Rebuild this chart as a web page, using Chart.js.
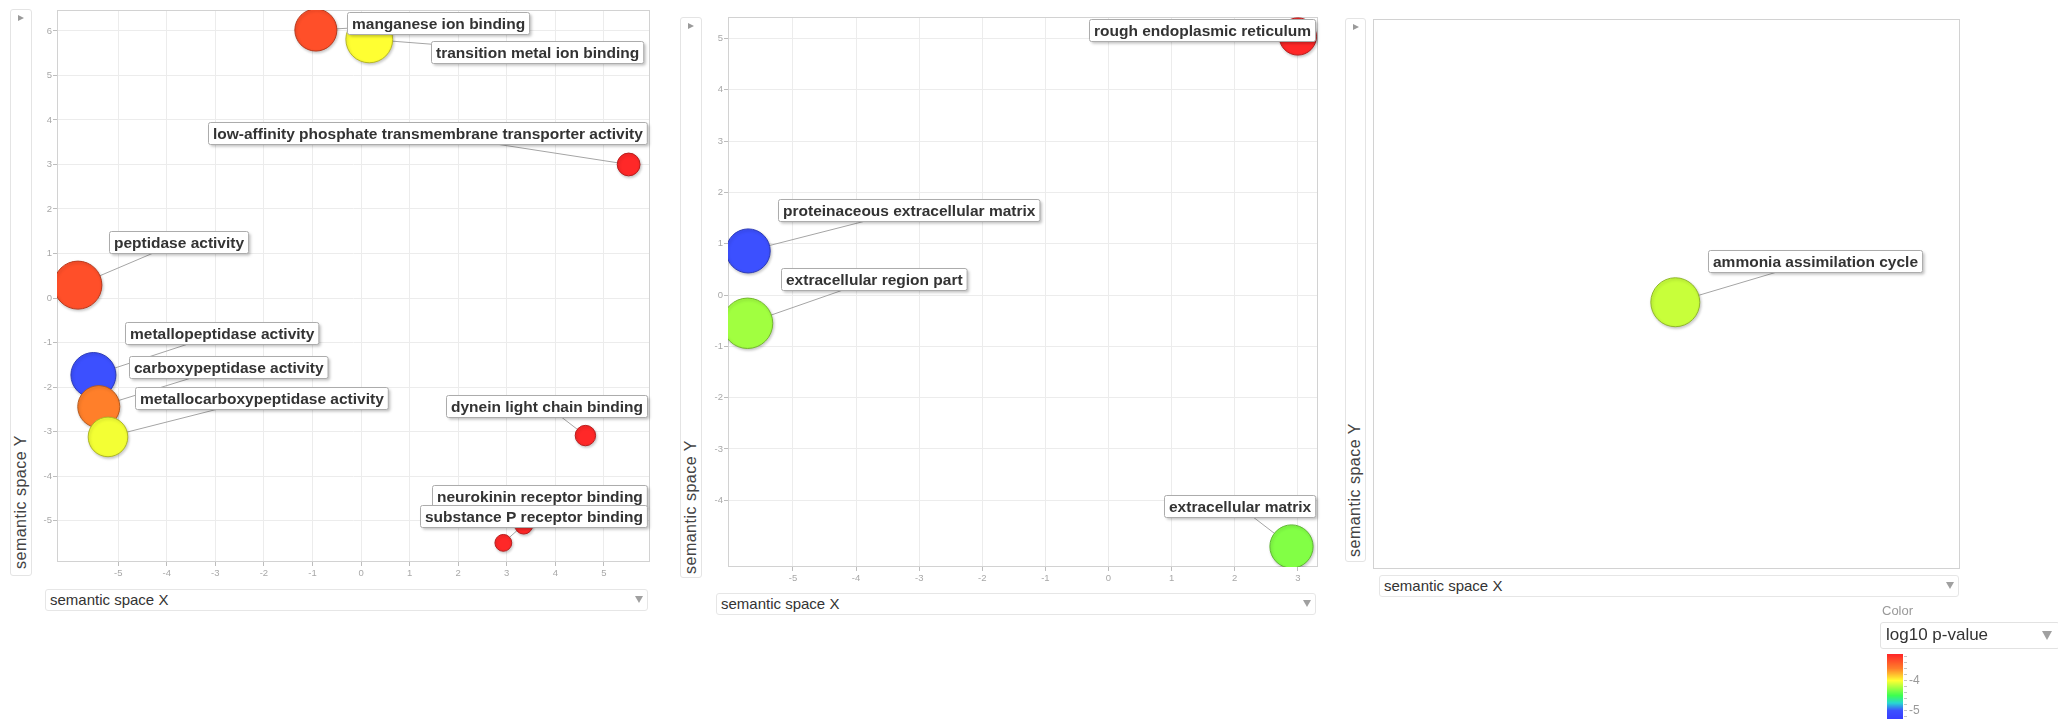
<!DOCTYPE html>
<html>
<head>
<meta charset="utf-8">
<title>REVIGO semantic space</title>
<script src="https://cdn.jsdelivr.net/npm/chart.js@4.4.1/dist/chart.umd.min.js"></script>
<style>
  html, body { margin: 0; padding: 0; background: #fff; }
  body { position: relative; width: 2058px; height: 719px; overflow: hidden; font-family: "Liberation Sans", Arial, sans-serif; }
  canvas { position: absolute; }
  .ybox { position: absolute; background: #fff; border: 1px solid #e4e4e4; border-radius: 3px; box-sizing: border-box; }
  .ybox .play { position: absolute; top: 5px; width: 0; height: 0; border-left: 6px solid #9a9a9a; border-top: 3.5px solid transparent; border-bottom: 3.5px solid transparent; }
  .ylabel { position: absolute; font-size: 16px; line-height: 16px; letter-spacing: 0.5px; color: #444; white-space: nowrap; transform-origin: 0 0; transform: rotate(-90deg); }
  .xsel { position: absolute; height: 22px; background: #fff; border: 1px solid #e6e6e6; border-radius: 3px; box-sizing: border-box; font-size: 15px; line-height: 20px; color: #333; padding-left: 4px; white-space: nowrap; }
  .xsel .arrow { position: absolute; right: 4px; top: 6px; width: 0; height: 0; border-top: 7px solid #a0a0a0; border-left: 4px solid transparent; border-right: 4px solid transparent; }
  .clabel { position: absolute; font-size: 13px; color: #999; }
  .csel { position: absolute; background: #fff; border: 1px solid #e2e2e2; border-radius: 3px; box-sizing: border-box; font-size: 17px; line-height: 24px; color: #333; padding-left: 5px; }
  .csel .arrow { position: absolute; right: 5px; top: 8px; width: 0; height: 0; border-top: 9px solid #a0a0a0; border-left: 5px solid transparent; border-right: 5px solid transparent; }
</style>
</head>
<body>

<!-- panel 1: molecular function -->
<div class="ybox" style="left:10px;top:9px;width:22px;height:567px"><div class="play" style="left:7px"></div></div>
<div class="ylabel" style="left:13px;top:569px">semantic space Y</div>
<canvas id="chart-mf"></canvas>
<div class="xsel" style="left:45px;top:589px;width:603px">semantic space X<div class="arrow"></div></div>

<!-- panel 2: cellular component -->
<div class="ybox" style="left:680px;top:17px;width:22px;height:561px"><div class="play" style="left:7px"></div></div>
<div class="ylabel" style="left:683px;top:574px">semantic space Y</div>
<canvas id="chart-cc"></canvas>
<div class="xsel" style="left:716px;top:593px;width:600px">semantic space X<div class="arrow"></div></div>

<!-- panel 3: biological process -->
<div class="ybox" style="left:1345px;top:18px;width:21px;height:544px"><div class="play" style="left:7px"></div></div>
<div class="ylabel" style="left:1347px;top:557px">semantic space Y</div>
<canvas id="chart-bp"></canvas>
<div class="xsel" style="left:1379px;top:575px;width:580px">semantic space X<div class="arrow"></div></div>

<!-- colour key -->
<div class="clabel" style="left:1882px;top:603px">Color</div>
<div class="csel" style="left:1880px;top:622px;width:180px;height:27px">log10 p-value<div class="arrow" style="right:7px"></div></div>
<canvas id="color-key"></canvas>

<script>
// ---- data: molecular function ----
const termsMF = [
  'manganese ion binding',
  'transition metal ion binding',
  'low-affinity phosphate transmembrane transporter activity',
  'peptidase activity',
  'metallopeptidase activity',
  'carboxypeptidase activity',
  'metallocarboxypeptidase activity',
  'dynein light chain binding',
  'neurokinin receptor binding',
  'substance P receptor binding',
]
const xMF = [-0.93, 0.17, 5.51, -5.83, -5.51, -5.40, -5.21, 4.62, 3.35, 2.93]
const yMF = [6.02, 5.81, 3.00, 0.29, -1.73, -2.44, -3.12, -3.09, -5.10, -5.50]
const pvalMF = [-3.34, -4.0, -3.13, -3.34, -5.0, -3.6, -4.03, -3.13, -3.13, -3.13]
const logSizeMF = [3.5, 3.9, 1.9, 4.0, 3.75, 3.5, 3.3, 1.7, 1.5, 1.4]
const xTicksMF = [-5, -4, -3, -2, -1, 0, 1, 2, 3, 4, 5]
const yTicksMF = [-5, -4, -3, -2, -1, 0, 1, 2, 3, 4, 5, 6]

// ---- data: cellular component ----
const termsCC = [
  'rough endoplasmic reticulum',
  'proteinaceous extracellular matrix',
  'extracellular region part',
  'extracellular matrix',
]
const xCC = [3.00, -5.71, -5.72, 2.90]
const yCC = [5.04, 0.86, -0.55, -4.90]
const pvalCC = [-3.13, -5.0, -4.24, -4.32]
const logSizeCC = [3.1, 3.67, 4.2, 3.6]
const xTicksCC = [-5, -4, -3, -2, -1, 0, 1, 2, 3]
const yTicksCC = [-4, -3, -2, -1, 0, 1, 2, 3, 4, 5]

// ---- data: biological process ----
const termsBP = ['ammonia assimilation cycle']
const xBP = [0.03]
const yBP = [-0.03]
const pvalBP = [-4.14]
const logSizeBP = [4.08]

// colour key ticks
const keyTicks = [-4, -5]

// label box placement relative to the bubble (px); 'R' = pinned to right edge
const labelPosMF = [[31.5, -18], [61.5, 2], ['R', -42], [31.5, -54], [31.5, -53], [30, -51], [27.5, -50], ['R', -41], ['R', -40], ['R', -38]]
const labelPosCC = [['R', -17.5], [30, -52], [33.5, -55], ['R', -51]]
const labelPosBP = [[32.5, -52.5]]

// log10 p-value -> colour, same ramp as the key
const colorStops = [
  [-3.13, [255, 40, 40]],
  [-3.6, [255, 127, 42]],
  [-4.0, [255, 255, 50]],
  [-4.5, [60, 255, 80]],
  [-4.75, [40, 215, 210]],
  [-5.0, [60, 80, 255]],
  [-5.6, [50, 40, 255]],
]

function rampColor(v, dim = 1) {
  let c = colorStops[colorStops.length - 1][1]
  if (v >= colorStops[0][0]) c = colorStops[0][1]
  for (let i = 0; i < colorStops.length - 1; i++) {
    const [v0, c0] = colorStops[i]
    const [v1, c1] = colorStops[i + 1]
    if (v <= v0 && v >= v1) {
      const t = (v0 - v) / (v0 - v1)
      c = c0.map((a, k) => a + (c1[k] - a) * t)
      break
    }
  }
  return `rgb(${c.map((a) => Math.round(a * dim)).join(',')})`
}

const LABEL_FONT = 'bold 15.5px "Liberation Sans", Arial, sans-serif'

function labelBoxes(chart, opts) {
  const ctx = chart.ctx
  const area = chart.chartArea
  const pts = chart.getDatasetMeta(0).data
  ctx.save()
  ctx.font = LABEL_FONT
  const out = opts.terms.map((t, i) => {
    const p = pts[i]
    const [dx, dy] = opts.pos[i]
    const w = ctx.measureText(t).width + 9
    let left = dx === 'R' ? area.right - 3 - w : p.x + dx
    if (left + w > area.right - 3) left = area.right - 3 - w
    return { t, x: left, y: p.y + dy, w, h: 22, cx: p.x, cy: p.y }
  })
  ctx.restore()
  return out
}

const termLabels = {
  id: 'termLabels',
  beforeDatasetsDraw(chart, args, opts) {
    const ctx = chart.ctx
    const a = chart.chartArea
    ctx.save()
    // plot frame
    ctx.strokeStyle = '#d2d2d2'
    ctx.lineWidth = 1
    ctx.strokeRect(Math.round(a.left) + 0.5, Math.round(a.top) + 0.5, Math.round(a.right - a.left) - 1, Math.round(a.bottom - a.top) - 1)
    // leader lines
    ctx.beginPath()
    ctx.rect(a.left, a.top, a.right - a.left, a.bottom - a.top)
    ctx.clip()
    ctx.strokeStyle = '#a5a5a5'
    for (const b of labelBoxes(chart, opts)) {
      ctx.beginPath()
      ctx.moveTo(b.cx, b.cy)
      ctx.lineTo(b.x + b.w / 2, b.y + b.h / 2)
      ctx.stroke()
    }
    ctx.restore()
  },
  beforeDatasetDraw(chart) {
    const ctx = chart.ctx
    ctx.save()
    ctx.shadowColor = 'rgba(0,0,0,0.22)'
    ctx.shadowBlur = 3
    ctx.shadowOffsetX = 1
    ctx.shadowOffsetY = 1.5
  },
  afterDatasetDraw(chart) {
    chart.ctx.restore()
  },
  afterDatasetsDraw(chart, args, opts) {
    const ctx = chart.ctx
    ctx.save()
    ctx.font = LABEL_FONT
    ctx.textBaseline = 'middle'
    for (const b of labelBoxes(chart, opts)) {
      const x = Math.round(b.x) + 0.5
      const y = Math.round(b.y) + 0.5
      ctx.save()
      ctx.shadowColor = 'rgba(0,0,0,0.25)'
      ctx.shadowBlur = 3
      ctx.shadowOffsetX = 2
      ctx.shadowOffsetY = 2
      ctx.fillStyle = '#fff'
      ctx.beginPath()
      ctx.roundRect(x, y, b.w, b.h, 2)
      ctx.fill()
      ctx.restore()
      ctx.strokeStyle = '#acacac'
      ctx.lineWidth = 1
      ctx.beginPath()
      ctx.roundRect(x, y, b.w, b.h, 2)
      ctx.stroke()
      ctx.fillStyle = '#333'
      ctx.fillText(b.t, x + 4.5, y + b.h / 2 + 1)
    }
    ctx.restore()
  },
}

function drawPanel(id, plot, xRange, yRange, terms, xs, ys, pvals, sizes, xTicks, yTicks, pos) {
  const [L, T, R, B] = plot
  const canvas = document.getElementById(id)
  canvas.width = R - L + 33
  canvas.height = B - T + 50
  canvas.style.left = (L - 25) + 'px'
  canvas.style.top = (T - 10) + 'px'
  const showAxes = !!xTicks

  const tickFont = { size: 9.5, family: '"Liberation Sans", Arial, sans-serif' }
  // axis boxes keep a fixed size, so the plot area lands where it should even when hidden
  const axis = (range, ticks, isX) => ({
    type: 'linear',
    display: showAxes,
    min: range[0],
    max: range[1],
    afterBuildTicks: (scale) => { scale.ticks = (ticks || []).map((v) => ({ value: v })) },
    afterFit: (scale) => { if (isX) scale.height = 40; else scale.width = 25 },
    grid: { color: '#ececec', tickColor: '#bdbdbd', tickLength: 4, drawTicks: true },
    border: { display: false },
    ticks: { color: '#a8a8a8', font: tickFont, padding: isX ? 2 : 1, maxRotation: 0, autoSkip: false },
  })

  new Chart(canvas, {
    type: 'bubble',
    data: {
      datasets: [{
        data: terms.map((t, i) => ({ x: xs[i], y: ys[i], r: sizes[i] * 6 })),
        backgroundColor: pvals.map((v) => rampColor(v)),
        borderColor: pvals.map((v) => rampColor(v, 0.72)),
        borderWidth: 1,
        hoverRadius: 0,
        clip: 0,
      }],
    },
    options: {
      responsive: false,
      animation: false,
      events: [],
      layout: {
        autoPadding: false,
        padding: { top: 10, right: 8, left: 0, bottom: 0 },
      },
      plugins: {
        legend: { display: false },
        tooltip: { enabled: false },
        termLabels: { terms, pos },
      },
      scales: {
        x: axis(xRange, xTicks, true),
        y: axis(yRange, yTicks, false),
      },
    },
    plugins: [termLabels],
  })
}

drawPanel('chart-mf', [57, 10, 650, 562], [-6.26, 5.95], [-5.93, 6.47],
  termsMF, xMF, yMF, pvalMF, logSizeMF, xTicksMF, yTicksMF, labelPosMF)
drawPanel('chart-cc', [728, 17, 1318, 567], [-6.03, 3.32], [-5.30, 5.42],
  termsCC, xCC, yCC, pvalCC, logSizeCC, xTicksCC, yTicksCC, labelPosCC)
drawPanel('chart-bp', [1373, 19, 1960, 569], [-1, 1], [-1, 1],
  termsBP, xBP, yBP, pvalBP, logSizeBP, null, null, labelPosBP)

// colour key: vertical ramp with ticks every 0.2
;(function drawKey() {
  const canvas = document.getElementById('color-key')
  canvas.width = 178
  canvas.height = 69
  canvas.style.left = '1880px'
  canvas.style.top = '650px'
  const ctx = canvas.getContext('2d')
  const top = -3.13
  const pxPerUnit = 30
  const yOf = (v) => 4 + (top - v) * pxPerUnit
  for (let y = 4; y < 69; y++) {
    ctx.fillStyle = rampColor(top - (y - 4) / pxPerUnit)
    ctx.fillRect(7, y, 16, 1)
  }
  ctx.strokeStyle = '#c4c4c4'
  ctx.lineWidth = 1
  for (let v = -3.2; v > -5.5; v -= 0.2) {
    const y = Math.round(yOf(v)) + 0.5
    ctx.beginPath()
    ctx.moveTo(24, y)
    ctx.lineTo(27, y)
    ctx.stroke()
  }
  ctx.fillStyle = '#999'
  ctx.font = '12px "Liberation Sans", Arial, sans-serif'
  ctx.textBaseline = 'middle'
  keyTicks.forEach((v) => ctx.fillText(String(v), 29, yOf(v) + 1))
})()
</script>
</body>
</html>
